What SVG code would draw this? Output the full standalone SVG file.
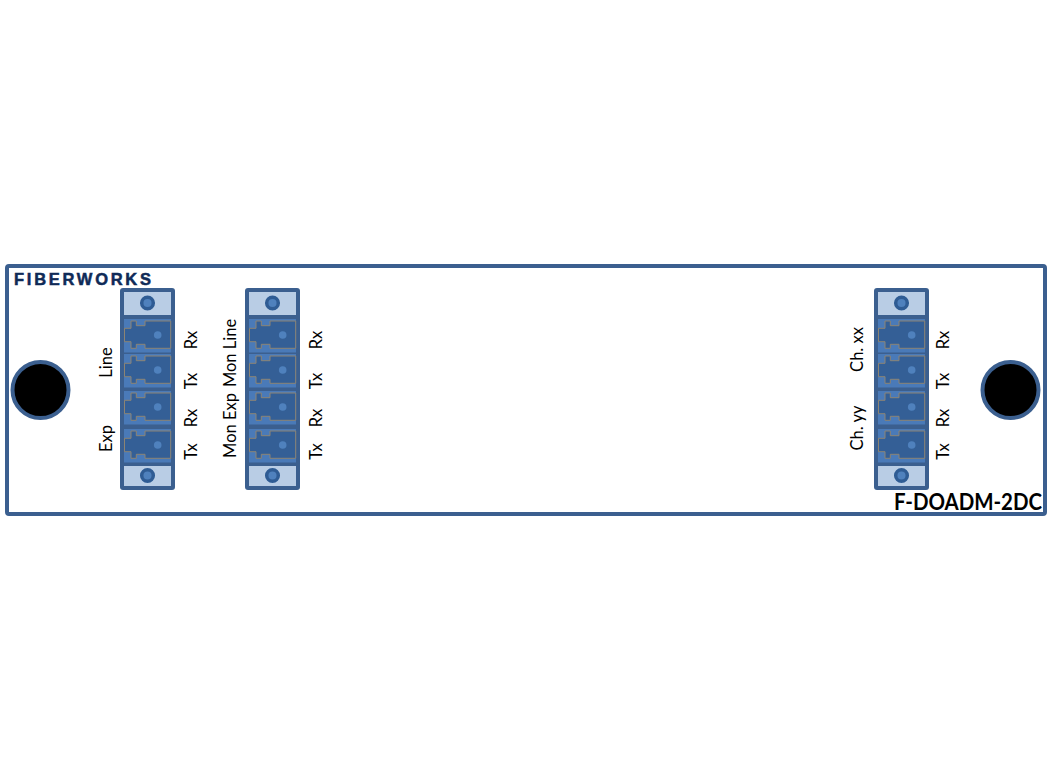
<svg xmlns="http://www.w3.org/2000/svg" width="1053" height="779" viewBox="0 0 1053 779">
<style>
text{font-family:Lato,"Liberation Sans",sans-serif;fill:#000;font-size:16.500px}
.l{text-anchor:middle}
.brand{font-family:"Liberation Sans",Arial,sans-serif;font-weight:700;font-size:16.500px;fill:#0f2a57;stroke:#0f2a57;stroke-width:.5}
.title{font-weight:700;font-size:22px;text-anchor:end}
.hole{fill:#000;stroke:#3b5f8f;stroke-width:4}
.body{fill:#3b5f8f}
.plate{fill:#b9cde5}
.screw{fill:#4f81bd;stroke:#2f5c94;stroke-width:3.500}
.pb{fill:#4a7ab8}
.pi{fill:#345f96;stroke:#8c8474;stroke-width:1}
.pc{fill:#4f81bd}
</style>
<defs>
<g id="port"><rect class="pb" width="47" height="33.500"/><path class="pi" d="M7 2H12.300V6.700H21V2H46.700V29.300H21V25.300H12.300V29.300H7V22.700H.5V9.300H7Z"/><circle class="pc" cx="33.700" cy="16" r="3.800"/></g>
<g id="mod"><rect class="body" width="55" height="202" rx="3"/>
<rect class="plate" x="4" y="4" width="47" height="23"/><circle class="screw" cx="27.500" cy="15" r="5.800"/>
<use href="#port" x="4" y="31"/><use href="#port" x="4" y="66"/><use href="#port" x="4" y="103"/><use href="#port" x="4" y="141"/>
<rect class="plate" x="4" y="178" width="47" height="20"/><circle class="screw" cx="27.500" cy="187.500" r="5.800"/></g>
</defs>
<g id="panel"><rect x="7" y="266" width="1038" height="248" rx="2" fill="#fff" stroke="#3b5f8f" stroke-width="4"/>
<text class="brand" x="14" y="285" textLength="137" lengthAdjust="spacing">FIBERWORKS</text>
<text class="title" x="1042" y="510" textLength="148" lengthAdjust="spacingAndGlyphs">F-DOADM-2DC</text></g>
<g id="hole-left"><circle class="hole" cx="40.500" cy="390" r="28"/></g>
<g id="hole-right"><circle class="hole" cx="1010.500" cy="390" r="28"/></g>
<g id="module-1"><use href="#mod" x="120" y="288"/>
<text class="l" transform="translate(111.500,362.500) rotate(-90)">Line</text>
<text class="l" transform="translate(111.500,438.500) rotate(-90)">Exp</text>
<text class="l" transform="translate(197,340) rotate(-90)">Rx</text>
<text class="l" transform="translate(197,381) rotate(-90)">Tx</text>
<text class="l" transform="translate(197,418) rotate(-90)">Rx</text>
<text class="l" transform="translate(197,451.500) rotate(-90)">Tx</text></g>
<g id="module-2"><use href="#mod" x="245" y="288"/>
<text class="l" transform="translate(236,353) rotate(-90)">Mon Line</text>
<text class="l" transform="translate(236,425.500) rotate(-90)">Mon Exp</text>
<text class="l" transform="translate(322,340) rotate(-90)">Rx</text>
<text class="l" transform="translate(322,381) rotate(-90)">Tx</text>
<text class="l" transform="translate(322,418) rotate(-90)">Rx</text>
<text class="l" transform="translate(322,451.500) rotate(-90)">Tx</text></g>
<g id="module-3"><use href="#mod" x="874" y="288"/>
<text class="l" transform="translate(863,349.500) rotate(-90)">Ch. xx</text>
<text class="l" transform="translate(863,428) rotate(-90)">Ch. yy</text>
<text class="l" transform="translate(949,340) rotate(-90)">Rx</text>
<text class="l" transform="translate(949,381) rotate(-90)">Tx</text>
<text class="l" transform="translate(949,418) rotate(-90)">Rx</text>
<text class="l" transform="translate(949,451.500) rotate(-90)">Tx</text></g>
</svg>
